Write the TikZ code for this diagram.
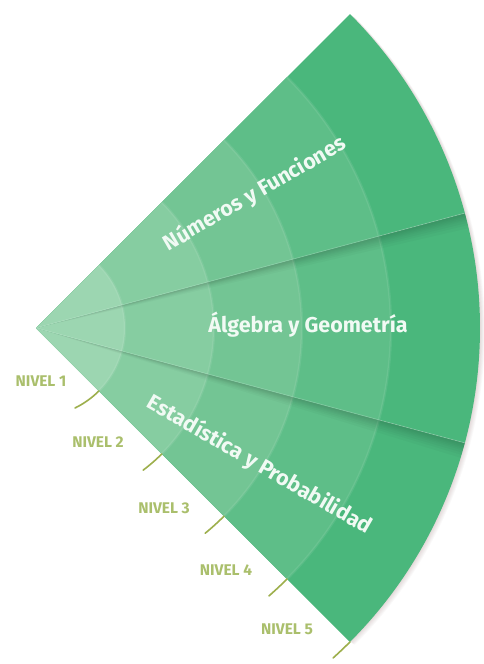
\documentclass[tikz,border=0pt]{standalone}
\usepackage{fontspec}
\setmainfont{Fira Sans}
\usetikzlibrary{calc}

% ring colours, lightest at the centre
\definecolor{ringi}{HTML}{9CD6B1}
\definecolor{ringii}{HTML}{86CDA1}
\definecolor{ringiii}{HTML}{73C594}
\definecolor{ringiv}{HTML}{5EBE88}
\definecolor{ringv}{HTML}{4AB77C}
\definecolor{titletext}{HTML}{F1FAF4}
\definecolor{olivetext}{HTML}{AABF6C}
\definecolor{olivetick}{HTML}{9DAF4C}

\tikzset{
  areatext/.style={text=titletext, font=\bfseries\fontsize{21.5}{24}\selectfont, inner sep=0pt},
  leveltext/.style={text=olivetext, font=\bfseries\fontsize{15.5}{18}\selectfont, inner sep=0pt},
  leveltick/.style={draw=olivetick, line width=1.6pt, line cap=round},
}

% one sector of the fan: #1 start angle, #2 end angle
\newcommand{\fansector}[2]{%
  \foreach \r/\c in {444/ringv,355/ringiv,266/ringiii,178/ringii,89/ringi}{%
    \fill[\c] (A) -- ++(#1:\r) arc[start angle=#1, end angle=#2, radius=\r] -- cycle;
  }%
  \foreach \r in {89,178,266,355}{%
    \draw[white, opacity=0.08, line width=2.5pt] ($(A)+(#1:\r)$) arc[start angle=#1, end angle=#2, radius=\r];
  }%
}
% shadow cast below the lower edge (angle #1) of a sector lying on top
\newcommand{\fanshadow}[1]{%
  \foreach \d in {0.2,0.4,0.6,0.8,1.0,1.3,1.6,2.0}{%
    \fill[black, opacity=0.022] (A) -- ++(#1:444) arc[start angle=#1, end angle=#1-\d, radius=444] -- cycle;
  }%
}

\begin{document}
\begin{tikzpicture}[x=1pt,y=1pt]
\useasboundingbox (0,0) rectangle (483,-664);
\fill[white] (0,0) rectangle (483,-664);

\coordinate (A) at (36,-328);

% soft drop shadow of the whole fan
\foreach \s in {1,2,3,4,5,6}{
  \fill[black!70!red, opacity=0.022] ([shift={(\s*0.8,-\s*0.5)}]A) -- ++(45:444) arc[start angle=45, end angle=-45, radius=444] -- cycle;
}

% lower sector, then the middle and upper ones laid over it
\fansector{-45}{-15}
\fanshadow{-15}
\fansector{-15}{15}
\fanshadow{15}
\fansector{15}{45}

% light rims along the overlapping edges
\draw[white, opacity=0.22, line width=0.8pt] (A) -- ++(15:444);
\draw[white, opacity=0.22, line width=0.8pt] (A) -- ++(-15:444);

% area titles
\node[areatext, rotate=30] (numeros) at ($(A)+(31.5:257)$) {Números y Funciones};
\node[areatext] (algebra) at (308,-325) {Álgebra y Geometría};
\node[areatext, rotate=-30] (estadistica) at ($(A)+(-31.5:262)$) {Estadística y Probabilidad};

% level ticks continuing the rings past the lower edge
\foreach \k/\r/\e in {1/89/-64,2/178/-53,3/266/-50.5,4/355/-49,5/444/-48}{
  \coordinate (t\k a) at ($(A)+(-45:\r)$);
  \draw[leveltick] (t\k a) arc[start angle=-45, end angle=\e, radius=\r];
}

% level labels
\node[leveltext] (nivel1) at (41,-381) {NIVEL 1};
\node[leveltext] (nivel2) at (98,-442) {NIVEL 2};
\node[leveltext] (nivel3) at (164,-508) {NIVEL 3};
\node[leveltext] (nivel4) at (226,-570) {NIVEL 4};
\node[leveltext] (nivel5) at (287,-629) {NIVEL 5};
\end{tikzpicture}
\end{document}
